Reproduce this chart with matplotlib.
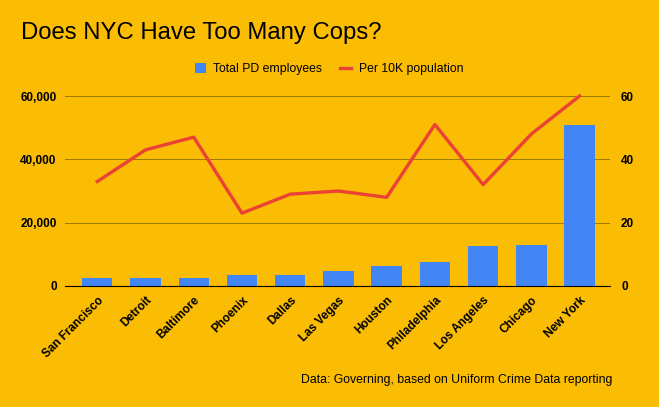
import matplotlib.pyplot as plt
from matplotlib.ticker import FuncFormatter

plt.rcParams["font.family"] = ["Liberation Sans", "DejaVu Sans"]

cities = ["San Francisco", "Detroit", "Baltimore", "Phoenix", "Dallas", "Las Vegas",
          "Houston", "Philadelphia", "Los Angeles", "Chicago", "New York"]
employees = [2500, 2500, 2500, 3500, 3500, 4750, 6300, 7500, 12500, 13000, 51000]
per_10k = [33, 43, 47, 23, 29, 30, 28, 51, 32, 48, 60]

bg = "#FBBC04"
bar_col = "#4285F4"
line_col = "#EA4335"

fig = plt.figure(figsize=(6.59, 4.07), dpi=100, facecolor=bg)
ax = fig.add_axes([0.0986, 0.2973, 0.827, 0.4668], facecolor=bg)
x = range(len(cities))
ax.bar(x, employees, width=0.63, color=bar_col, zorder=2, label="Total PD employees")
ax.set_ylim(0, 60000)
ax.set_yticks([0, 20000, 40000, 60000])
ax.yaxis.set_major_formatter(FuncFormatter(lambda v, p: f"{int(v):,}"))
ax.set_xlim(-0.67, 10.63)
ax.set_xticks(list(x))
ax.set_xticklabels(cities, rotation=45, ha="right", rotation_mode="anchor",
                   fontsize=8.5, fontweight="bold")
ax.grid(axis="y", color="#9C7A00", linewidth=0.7, zorder=0)
for s in ["top", "right", "left"]:
    ax.spines[s].set_visible(False)
ax.spines["bottom"].set_color("black")
ax.spines["bottom"].set_zorder(3)
ax.tick_params(length=0, pad=6)
for t in ax.get_yticklabels():
    t.set_fontweight("bold")
    t.set_fontsize(8.5)

ax2 = ax.twinx()
ax2.plot(x, per_10k, color=line_col, linewidth=2.4, zorder=3, label="Per 10K population",
         clip_on=False)
ax2.set_ylim(0, 60)
ax2.set_yticks([0, 20, 40, 60])
for s in ["top", "right", "left", "bottom"]:
    ax2.spines[s].set_visible(False)
ax2.tick_params(length=0, pad=8)
for t in ax2.get_yticklabels():
    t.set_fontweight("bold")
    t.set_fontsize(8.5)

h1, l1 = ax.get_legend_handles_labels()
h2, l2 = ax2.get_legend_handles_labels()
fig.legend(h1 + h2, l1 + l2, loc="center", bbox_to_anchor=(0.499, 0.83), ncol=2,
           frameon=False, fontsize=8.8, handlelength=0.9, handleheight=0.9,
           columnspacing=1.5, handletextpad=0.6)

fig.text(0.032, 0.918, "Does NYC Have Too Many Cops?", fontsize=17.2, va="center", ha="left")
fig.text(0.929, 0.066, "Data: Governing, based on Uniform Crime Data reporting",
         fontsize=8.85, ha="right", va="center")

fig.savefig("out.png", dpi=100, facecolor=bg)
